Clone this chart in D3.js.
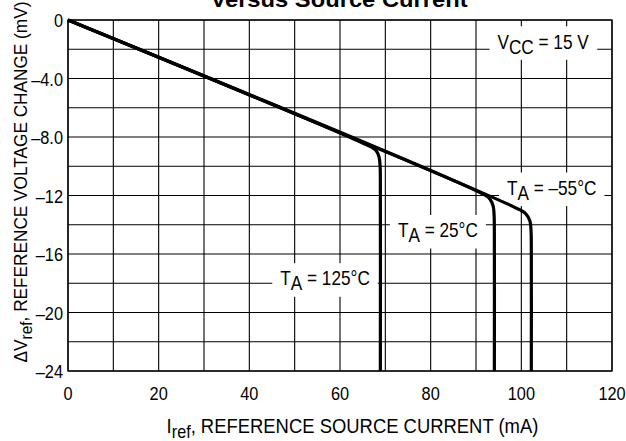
<!DOCTYPE html>
<html><head><meta charset="utf-8">
<script src="https://cdn.jsdelivr.net/npm/d3@7"></script>
<style>body{margin:0;background:#fff}svg{display:block}text{font-family:"Liberation Sans",Arial,Helvetica,sans-serif;fill:#000}</style>
</head><body><svg id="c" width="626" height="441"></svg>
<script>
// ---- data ----
const xTicks = [0, 20, 40, 60, 80, 100, 120];
const yTicks = [0, -4, -8, -12, -16, -20, -24];
const yTickLabels = ["0", "\u20134.0", "\u20138.0", "\u201312", "\u201316", "\u201320", "\u201324"];
const curve125 = [[0,0],[66.8,-8.68],[67.9,-8.9],[68.6,-9.35],[68.85,-10.0],[68.9,-11],[68.9,-24]];
const curve25 = [[0,0],[92.0,-11.98],[93.1,-12.25],[93.8,-12.75],[94.0,-13.4],[94.05,-14.5],[94.05,-24]];
const curve55 = [[0,0],[99.6,-12.97],[101.0,-13.25],[101.9,-13.75],[102.15,-14.5],[102.2,-15.5],[102.2,-24]];
const labels = [
  {main:"T", sub:"A", rest:" = 125\u00B0C", x:56.7, y:-18.15},
  {main:"T", sub:"A", rest:" = 25\u00B0C", x:81.6, y:-14.85},
  {main:"T", sub:"A", rest:" = \u201355\u00B0C", x:106.7, y:-11.95},
  {main:"V", sub:"CC", rest:" = 15 V", x:104.8, y:-1.95}
];

const svg = d3.select("#c");
const L = 68, R = 612, T = 20, B = 371;
const x = d3.scaleLinear().domain([0,120]).range([L,R]);
const y = d3.scaleLinear().domain([0,-24]).range([T,B]);
const SX = 0.86;

// grid
const g = svg.append("g");
g.selectAll(".vx").data(d3.range(0,121,10)).enter().append("line")
  .attr("x1",d=>x(d)).attr("x2",d=>x(d)).attr("y1",T).attr("y2",B)
  .attr("stroke","#000").attr("stroke-width",1.1);
g.selectAll(".hy").data(d3.range(0,-25,-2)).enter().append("line")
  .attr("y1",d=>y(d)).attr("y2",d=>y(d)).attr("x1",L).attr("x2",R)
  .attr("stroke","#000").attr("stroke-width",1.1);
g.append("rect").attr("x",L).attr("y",T).attr("width",R-L).attr("height",B-T)
  .attr("fill","none").attr("stroke","#000").attr("stroke-width",1.3);

// annotation labels with white background (baseline at y(value))
labels.forEach(l=>{
  const lg = svg.append("g").attr("transform",`translate(${x(l.x)},${y(l.y)})`);
  const t = lg.append("text").attr("text-anchor","middle").style("font-size","20px")
    .attr("transform",`scale(${SX},1)`);
  t.append("tspan").text(l.main);
  t.append("tspan").attr("dy",5).text(l.sub);
  t.append("tspan").attr("dy",-5).text(l.rest);
  const bb = t.node().getBBox();
  lg.insert("rect","text").attr("x",bb.x*SX-8).attr("y",bb.y-4)
    .attr("width",bb.width*SX+16).attr("height",bb.height+6).attr("fill","#fff");
});

// curve lines
const line = d3.line().x(d=>x(d[0])).y(d=>y(d[1])).curve(d3.curveCatmullRom.alpha(0.5));
[curve125, curve25, curve55].forEach(c=>{
  svg.append("path").attr("d",line(c)).attr("fill","none").attr("stroke","#000")
    .attr("stroke-width",3.2).attr("stroke-linejoin","round");
});

// tick labels (condensed)
xTicks.forEach(d=>{
  svg.append("text").attr("transform",`translate(${x(d)},400) scale(${SX},1)`)
    .attr("text-anchor","middle").style("font-size","19px").text(d);
});
yTicks.forEach((d,i)=>{
  svg.append("text").attr("transform",`translate(63,${y(d)+7}) scale(${SX},1)`)
    .attr("text-anchor","end").style("font-size","19px").text(yTickLabels[i]);
});

// fit helper: scale text horizontally to a target width
function fit(t, target){
  const w = t.node().getBBox().width;
  t.attr("transform",`scale(${target/w},1)`);
}

// x axis title
const xg = svg.append("g").attr("transform","translate(352.5,433)");
const xt = xg.append("text").attr("text-anchor","middle").style("font-size","20.5px");
xt.append("tspan").text("I");
xt.append("tspan").attr("dy",5).style("font-size","18px").text("ref");
xt.append("tspan").attr("dy",-5).text(", REFERENCE SOURCE CURRENT (mA)");
fit(xt, 372);

// y axis title
const yg = svg.append("g").attr("transform","translate(27,182) rotate(-90)");
const yt = yg.append("text").attr("text-anchor","middle").style("font-size","19px");
yt.append("tspan").text("\u0394V");
yt.append("tspan").attr("dy",5).style("font-size","17px").text("ref");
yt.append("tspan").attr("dy",-5).text(", REFERENCE VOLTAGE CHANGE (mV)");
fit(yt, 361);

// title (partially cut at top)
const tg = svg.append("g").attr("transform","translate(339,7)");
const tt = tg.append("text").attr("text-anchor","middle")
  .style("font-weight","bold").style("font-size","22px").text("Versus Source Current");
fit(tt, 258);
</script></body></html>
